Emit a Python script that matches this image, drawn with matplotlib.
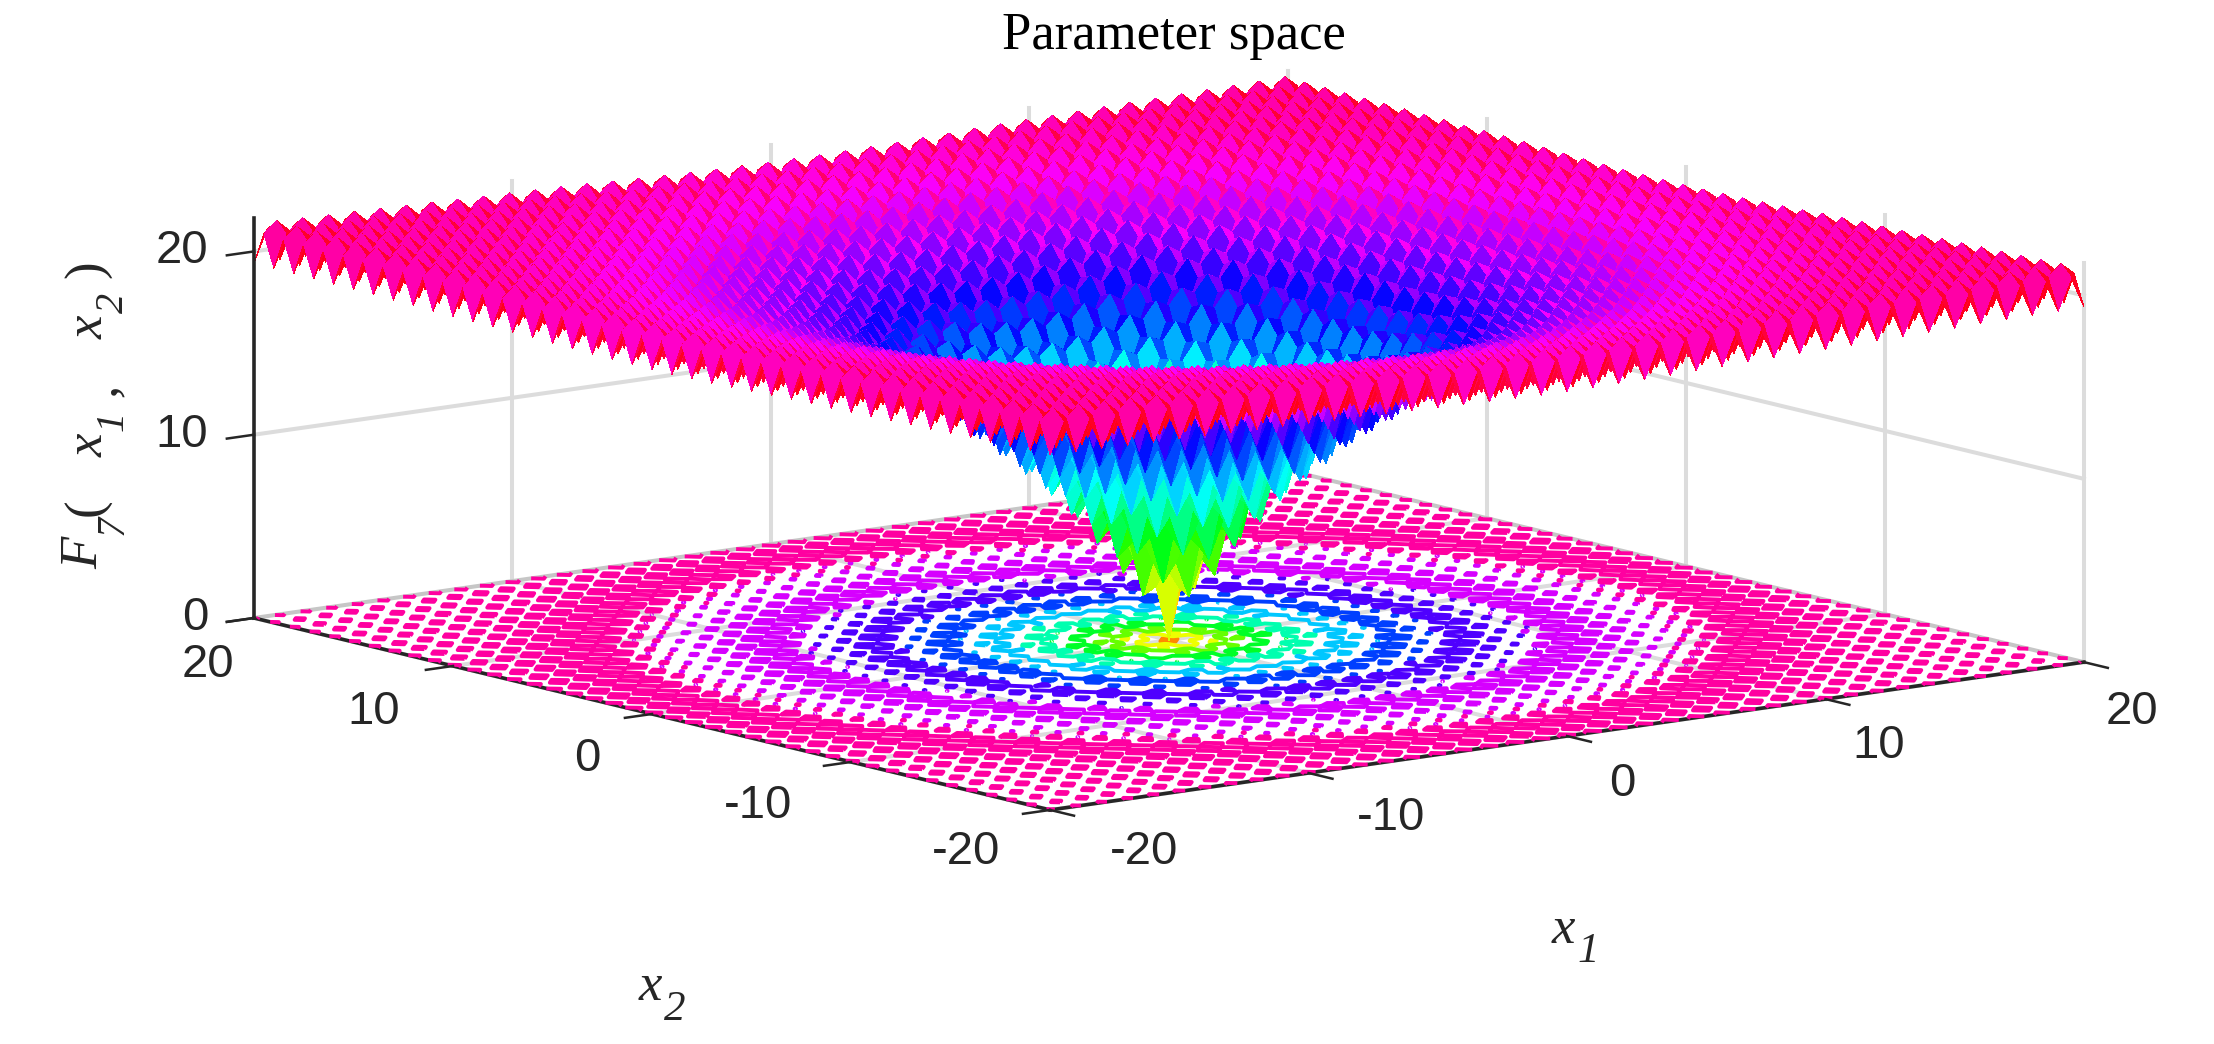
#Parameter space surface with contour floor
import numpy as np
import matplotlib
matplotlib.use('Agg')
import matplotlib.pyplot as plt
from mpl_toolkits.mplot3d import proj3d

plt.rcParams['font.family'] = ['Liberation Sans', 'DejaVu Sans']

# radial profile of the bowl (height of a mid cell)
radius_vals = [0, 1, 2, 3, 4, 6, 8, 10, 12, 15, 18, 21, 24, 28.3]
height_vals = [1.7, 4.35, 6.65, 8.64, 10.38, 13.2, 15.35, 16.95, 18.05, 19.3, 20.15, 20.7, 20.9, 21.1]
# extra height of the lattice points, whole/whole, whole/half, half/half
dent_vals = [-1.72, 0.0, 0.63]

x_ticks = [-20, -10, 0, 10, 20]
z_ticks = [0, 10, 20]
contour_levels = [2, 4, 6, 8, 10, 12, 14, 16, 18, 20]

# surface is expanded from the profile above, one lattice point per half unit
grid = np.arange(-20, 20.5, 0.5)
X, Y = np.meshgrid(grid, grid)
R = np.hypot(X, Y)
n_half = (X % 1 != 0).astype(int) + (Y % 1 != 0).astype(int)
Z = np.interp(R, radius_vals, height_vals) + np.array(dent_vals)[n_half]

W, H = 2214, 1044
fig = plt.figure(figsize=(W / 100, H / 100), dpi=100)
ax = fig.add_axes([0, 0, 1, 1], projection='3d', proj_type='ortho')
ax.computed_zorder = False
ax.set_axis_off()
ax.view_init(elev=10.7, azim=-127.6)
ax.set_xlim(-20, 20)
ax.set_ylim(-20, 20)
ax.set_zlim(0, 21.8)
ax.set_box_aspect((1306, 1306, 407))

# fit the box to the corners seen in the reference (pixels, y from the bottom)
left_px = np.array([254.0, H - 618.0])
right_px = np.array([2084.0, H - 659.0])


def screen(x, y, z):
    xp, yp, _ = proj3d.proj_transform(x, y, z, ax.get_proj())
    return ax.transData.transform((xp, yp))


side = 3000.0
ax.set_position([0, 0, side / W, side / H])
p1, p2 = screen(-20, 20, 0), screen(20, -20, 0)
side *= np.linalg.norm(right_px - left_px) / np.linalg.norm(p2 - p1)
ax.set_position([0, 0, side / W, side / H])
p1 = screen(-20, 20, 0)
ax.set_position([(left_px[0] - p1[0]) / W, (left_px[1] - p1[1]) / H, side / W, side / H])

# grid
grid_col = '#dcdcdc'
edge_col = '#c6c6c6'
grid_lw = 2.9
for t in x_ticks:
    ax.plot([t, t], [-20, 20], [0, 0], color=edge_col if t == 20 else grid_col, lw=grid_lw, zorder=1)
    ax.plot([-20, 20], [t, t], [0, 0], color=edge_col if t == 20 else grid_col, lw=grid_lw, zorder=1)
    if t > -20:
        ax.plot([t, t], [20, 20], [0, 21.8], color=grid_col, lw=grid_lw, zorder=1)
    ax.plot([20, 20], [t, t], [0, 21.8], color=grid_col, lw=grid_lw, zorder=1)
for t in z_ticks[1:]:
    ax.plot([-20, 20], [20, 20], [t, t], color=grid_col, lw=grid_lw, zorder=1)
    ax.plot([20, 20], [-20, 20], [t, t], color=grid_col, lw=grid_lw, zorder=1)

# contour floor and surface, both hsv, the surface a bit further round the wheel
contour_norm = plt.Normalize(0, 22.0)
surf_norm = plt.Normalize(0, 21.3)
ax.contour(X, Y, Z, levels=contour_levels, zdir='z', offset=0, cmap='hsv', norm=contour_norm,
           linewidths=2.8, zorder=2)
ax.plot_surface(X, Y, Z, rstride=1, cstride=1, facecolors=plt.cm.hsv(surf_norm(Z)),
                shade=False, linewidth=0, antialiased=False, zorder=3)

# axis lines and ticks
axis_col = '#262626'
axis_lw = 2.6
ax.plot([-20, 20], [-20, -20], [0, 0], color=axis_col, lw=axis_lw, zorder=1.5)
ax.plot([-20, -20], [-20, 20], [0, 0], color=axis_col, lw=axis_lw, zorder=1.5)
ax.plot([-20, -20], [20, 20], [0, 21.8], color=axis_col, lw=axis_lw, zorder=4)
for t in x_ticks:
    ax.plot([t, t], [-20, -21.2], [0, 0], color=axis_col, lw=1.8, zorder=4)
    ax.plot([-20, -21.05], [t, t], [0, 0], color=axis_col, lw=1.8, zorder=4)
for t in z_ticks:
    ax.plot([-20, -21.05], [20, 20], [t, t], color=axis_col, lw=1.8, zorder=4)

# the square axes is smaller than the box, nothing should be cut at its edge
for art in list(ax.collections) + list(ax.lines):
    art.set_clip_on(False)


def label(txt, x, y, z, dx, dy, ha='center'):
    xp, yp, _ = proj3d.proj_transform(x, y, z, ax.get_proj())
    ax.annotate(txt, xy=(xp, yp), xytext=(dx, dy), textcoords='offset pixels', ha=ha, va='center',
                annotation_clip=False, fontsize=34, color=axis_col)


x1_off = [(94, -42), (82, -45), (55, -48), (53, -47), (48, -50)]
x2_off = [(-84, -42), (-93, -44), (-65, -45), (-79, -46), (-46, -47)]
for t, o1, o2 in zip(x_ticks, x1_off, x2_off):
    label(str(t), t, -20, 0, o1[0], o1[1])
    label(str(t), -20, t, 0, o2[0], o2[1])
for t in z_ticks:
    label(str(t), -20, 20, t, -46, 0, ha='right')

fig.text(1174 / W, 1 - 36 / H, 'Parameter space', family='Liberation Serif',
         fontsize=38, color='black', ha='center', va='center')


def serif(txt, x, y, size, rotation=0, style='italic'):
    fig.text(x / W, 1 - y / H, txt, family='Liberation Serif', style=style, fontsize=size,
             color=axis_col, rotation=rotation, ha='center', va='center')


# axis labels, each glyph on its own because the subscripts are nearly full size
serif('x', 1563, 930, 38)
serif('1', 1588, 952, 31)
serif('x', 650, 987, 38)
serif('2', 675, 1010, 31)
zlabel_parts = [('F', 84, 553, 38), ('7', 113, 525, 29), ('x', 90, 445, 38), ('1', 113, 421, 29),
                (',', 102, 390, 38), ('x', 90, 327, 38), ('2', 113, 303, 29)]
for part in zlabel_parts:
    serif(part[0], part[1], part[2], part[3], rotation=90)
serif('(', 88, 507, 38, rotation=90, style='normal')
serif(')', 88, 269, 38, rotation=90, style='normal')

fig.savefig('out.png', dpi=100)
